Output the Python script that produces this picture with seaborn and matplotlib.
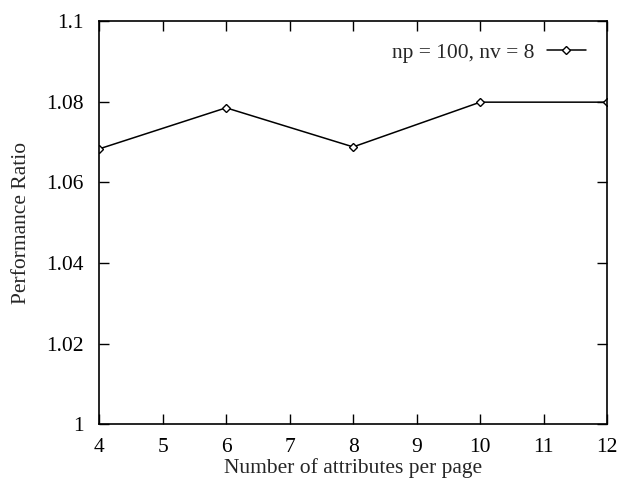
import pandas as pd
import seaborn as sns
import matplotlib.pyplot as plt

attrs = [4, 6, 8, 10, 12]
ratio = [1.0683, 1.0785, 1.0688, 1.0799, 1.0799]
series_name = "np = 100, nv = 8"

df = pd.DataFrame({"attrs": attrs, "ratio": ratio, "series": series_name})

sns.set_style("ticks")
plt.rcParams['font.family'] = ['Liberation Serif', 'DejaVu Serif']
fs = 15.5
plt.rcParams['font.size'] = fs

fig = plt.figure(figsize=(6.19, 4.8), dpi=100)
ax = fig.add_axes([0.16, 0.116, 0.821, 0.84])

sns.lineplot(
    data=df, x="attrs", y="ratio", hue="series", palette=["black"],
    marker="D", markersize=4.5, markerfacecolor="white", markeredgecolor="black",
    markeredgewidth=1, linewidth=1.1, ax=ax,
)

ax.set_xlim(4, 12)
ax.set_ylim(1.0, 1.1)
ax.set_xticks(range(4, 13))
ax.set_yticks([1.0, 1.02, 1.04, 1.06, 1.08, 1.1])
ax.set_yticklabels(["1", "1.02", "1.04", "1.06", "1.08", "1.1"])
ax.tick_params(direction="in", top=True, right=True, length=7, width=1,
               labelsize=fs, colors="black")
ax.tick_params(axis="x", pad=10)
ax.tick_params(axis="y", pad=11)
for s in ax.spines.values():
    s.set_linewidth(1.2)
    s.set_color("black")

ax.set_xlabel("Number of attributes per page", fontsize=fs, labelpad=0.5)
ax.set_ylabel("Performance Ratio", fontsize=fs, labelpad=11)

ax.legend(loc="upper right", frameon=False, markerfirst=False, fontsize=fs,
          handlelength=1.8, handletextpad=0.6, borderaxespad=0.6, title=None)

fig.savefig("out.png", dpi=100)
